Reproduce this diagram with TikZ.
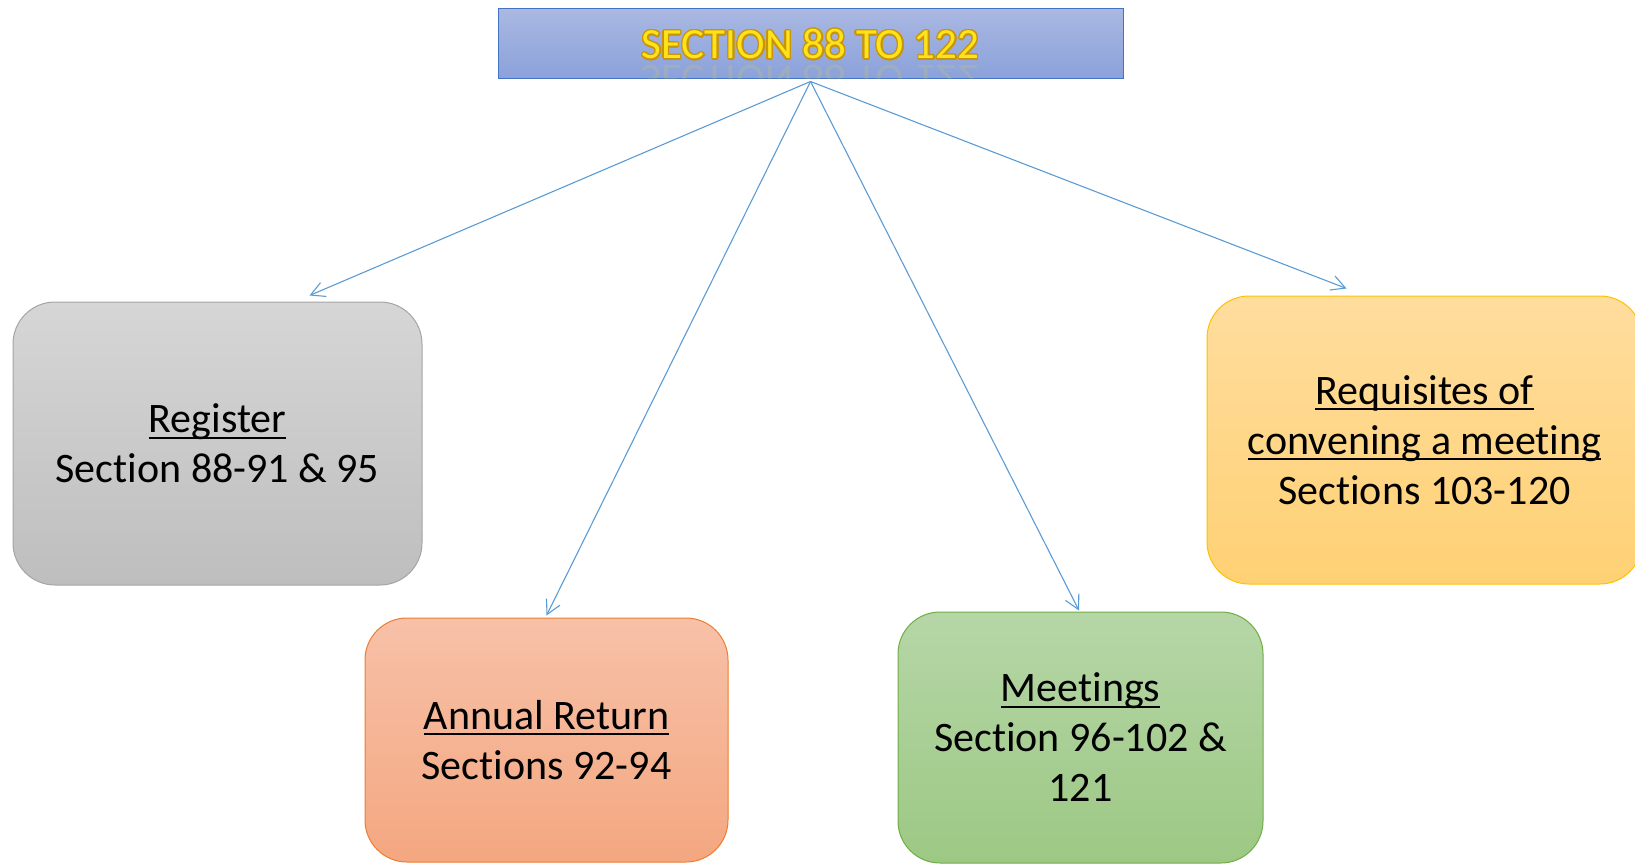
\documentclass[tikz,border=0pt]{standalone}
\usepackage{fontspec}
\setmainfont[Ligatures=NoCommon]{Carlito}
\usepackage{contour}
\usetikzlibrary{arrows.meta,calc}

\definecolor{titletop}{HTML}{AAB8E2}
\definecolor{titlebot}{HTML}{8AA1DA}
\definecolor{titleedge}{HTML}{4472C4}
\definecolor{titlefill}{HTML}{FFE31A}
\definecolor{titleline}{HTML}{C8940A}
\definecolor{linkblue}{HTML}{5B9BD5}
\definecolor{regtop}{HTML}{D6D6D6}
\definecolor{regbot}{HTML}{BEBEBE}
\definecolor{regedge}{HTML}{A5A5A5}
\definecolor{anntop}{HTML}{F7C1A8}
\definecolor{annbot}{HTML}{F4A780}
\definecolor{annedge}{HTML}{ED7D31}
\definecolor{meettop}{HTML}{B6D6A7}
\definecolor{meetbot}{HTML}{9CC884}
\definecolor{meetedge}{HTML}{70AD47}
\definecolor{reqtop}{HTML}{FFDD9E}
\definecolor{reqbot}{HTML}{FFD174}
\definecolor{reqedge}{HTML}{FFC000}

% underline sitting just under the baseline
\newcommand\ulword[1]{\setbox0\hbox{#1}\rlap{\rule[-6pt]{\wd0}{2pt}}\box0}
\contourlength{1.4pt}

\tikzset{
  card/.style={draw, line width=1pt, rounded corners=42pt, align=center,
    inner sep=0pt, text=black, font=\fontsize{42}{50}\selectfont},
  headbox/.style={draw=titleedge, line width=1pt, top color=titletop,
    bottom color=titlebot, inner sep=0pt},
  headtext/.style={text=titlefill, font=\fontsize{43}{50}\selectfont, inner sep=0pt},
  link/.style={draw=linkblue, line width=1.1pt,
    -{Straight Barb[length=14pt,width=15pt,line width=1.1pt]}},
}

\begin{document}
\begin{tikzpicture}[x=1pt,y=-1pt]
\useasboundingbox (0,0) rectangle (1635,864);

% heading
\node[headbox, minimum width=625pt, minimum height=70pt] (title) at (810.5,44) {};
\begin{scope}
  \clip (title.south west) rectangle (title.north east);
  \node[headtext, text opacity=0.14, yscale=-1, transform shape] (titlerefl) at (810.5,80)
    {SECTION 88 TO 122};
\end{scope}
\node[headtext] (titletext) at (810.5,45) {\contour{titleline}{SECTION 88 TO 122}};

% topic cards
\node[card, draw=regedge, top color=regtop, bottom color=regbot,
  minimum width=409pt, minimum height=283pt] (reg) at (217.5,443.5)
  {\ulword{Register}\\Section 88-91 \& 95};
\node[card, draw=annedge, top color=anntop, bottom color=annbot,
  minimum width=363pt, minimum height=244pt] (ann) at (546.5,740)
  {\ulword{Annual Return}\\Sections 92-94};
\node[card, draw=meetedge, top color=meettop, bottom color=meetbot,
  minimum width=365pt, minimum height=251pt] (meet) at (1080.5,737.5)
  {\ulword{Meetings}\\Section 96-102 \&\\121};
\node[card, draw=reqedge, top color=reqtop, bottom color=reqbot,
  minimum width=435pt, minimum height=288pt] (req) at (1424.5,440)
  {\ulword{Requisites of}\\\ulword{convening a meeting}\\Sections 103-120};

% connectors from the heading
\coordinate (hub) at ($(title.south)+(0,2)$);
\draw[link] (hub) -- ($(reg.north)+(92,-6)$);
\draw[link] (hub) -- ($(ann.north)+(0,-2)$);
\draw[link] (hub) -- ($(meet.north)+(-1.5,-1)$);
\draw[link] (hub) -- ($(req.north)+(-78,-7)$);
\end{tikzpicture}
\end{document}
